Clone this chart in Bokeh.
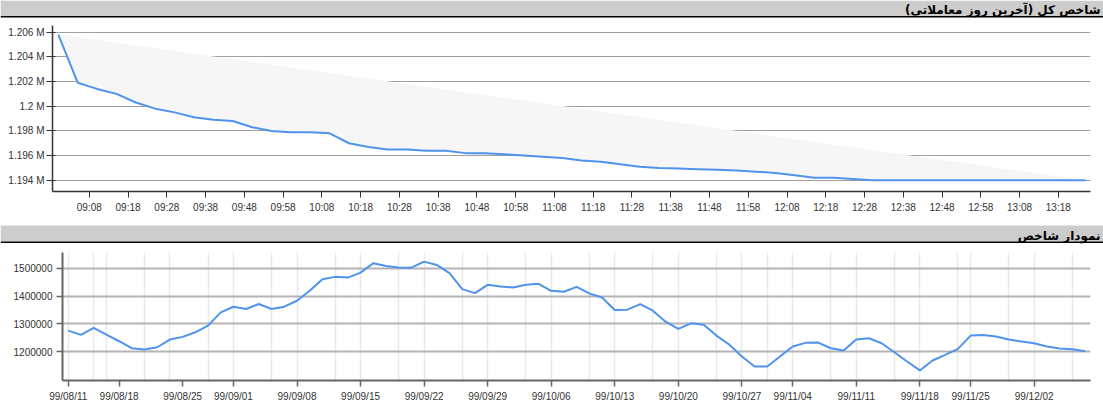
from bokeh.plotting import figure
from bokeh.models import (Range1d, FixedTicker, Label, BoxAnnotation,
                          CustomJSTickFormatter, NumeralTickFormatter)
from bokeh.embed import file_html
from bokeh.resources import INLINE

# ---------------- data ----------------
title_top = "شاخص کل (آخرین روز معاملاتی)"
title_bottom = "نمودار شاخص"

intraday_times = ["09:00", "09:05", "09:10", "09:15", "09:20", "09:25", "09:30", "09:35",
                  "09:40", "09:45", "09:50", "09:55", "10:00", "10:05", "10:10", "10:15",
                  "10:20", "10:25", "10:30", "10:35", "10:40", "10:45", "10:50", "10:55",
                  "11:00", "11:05", "11:10", "11:15", "11:20", "11:25", "11:30", "11:35",
                  "11:40", "11:45", "11:50", "11:55", "12:00", "12:05", "12:10", "12:15",
                  "12:20", "12:25", "12:30", "12:35", "12:40", "12:45", "12:50", "12:55",
                  "13:00", "13:05", "13:10", "13:15", "13:20", "13:25"]
intraday_values = [1205800, 1201900, 1201400, 1201000, 1200300, 1199800, 1199500, 1199100,
                   1198900, 1198800, 1198300, 1198000, 1197900, 1197900, 1197800, 1197000,
                   1196700, 1196500, 1196500, 1196400, 1196400, 1196200, 1196200, 1196100,
                   1196000, 1195900, 1195800, 1195600, 1195500, 1195300, 1195100, 1195000,
                   1194950, 1194900, 1194850, 1194800, 1194700, 1194600, 1194400, 1194200,
                   1194200, 1194100, 1194000, 1194000, 1194000, 1194000, 1194000, 1194000,
                   1194000, 1194000, 1194000, 1194000, 1194000, 1194000]
intraday_tick_labels = ["09:08", "09:18", "09:28", "09:38", "09:48", "09:58", "10:08", "10:18",
                        "10:28", "10:38", "10:48", "10:58", "11:08", "11:18", "11:28", "11:38",
                        "11:48", "11:58", "12:08", "12:18", "12:28", "12:38", "12:48", "12:58",
                        "13:08", "13:18"]
intraday_y_ticks = [1194000, 1196000, 1198000, 1200000, 1202000, 1204000, 1206000]

daily_values = [1276000, 1260700, 1285700, 1261800, 1237900, 1212900, 1208200, 1216400,
                1243900, 1253600, 1270000, 1293900, 1341400, 1361800, 1353600, 1371400,
                1353600, 1361800, 1383200, 1418900, 1460700, 1468900, 1466400, 1484300,
                1517900, 1508200, 1502100, 1502000, 1523600, 1511800, 1482100, 1425000,
                1410700, 1440400, 1434300, 1430700, 1440400, 1443900, 1418900, 1415400,
                1433200, 1409300, 1395000, 1350000, 1351100, 1371400, 1347500, 1308200,
                1282100, 1302100, 1297500, 1258200, 1226100, 1183200, 1147500, 1147500,
                1183200, 1218900, 1232100, 1233200, 1212900, 1204600, 1243900, 1248600,
                1230700, 1198600, 1165400, 1133200, 1168900, 1189300, 1210700, 1258200,
                1260700, 1254600, 1243900, 1236800, 1230700, 1218900, 1211800, 1209300,
                1202100]
date_tick_pos = [0, 4, 9, 13, 18, 23, 28, 33, 38, 43, 48, 53, 57, 62, 67, 71, 76]
date_tick_labels = ["99/08/11", "99/08/18", "99/08/25", "99/09/01", "99/09/08", "99/09/15",
                    "99/09/22", "99/09/29", "99/10/06", "99/10/13", "99/10/20", "99/10/27",
                    "99/11/04", "99/11/11", "99/11/18", "99/11/25", "99/12/02"]
date_grid_pos = [0, 2, 3, 6, 8, 11, 13, 16, 18, 21, 23, 26, 28, 31, 33, 36, 38, 41, 43, 46,
                 48, 51, 53, 55, 57, 60, 62, 65, 67, 70, 71, 74, 76, 79]
daily_y_ticks = [1200000, 1300000, 1400000, 1500000]

# ---------------- styling ----------------
W = 1103
LINE = "#4f93ec"
FONT = "Liberation Sans"
TFONT = "DejaVu Sans"
HEAD = "#cccccc"


def to_min(s):
    h, m = s.split(":")
    return int(h) * 60 + int(m)


def header(title, h, gray_top, gray_bottom, text_mid):
    p = figure(width=W, height=h, x_range=Range1d(0, W), y_range=Range1d(0, h),
               output_backend="svg", toolbar_location=None, min_border=0,
               x_axis_location=None, y_axis_location=None)
    p.grid.visible = False
    p.outline_line_color = None
    p.background_fill_color = "white"
    p.border_fill_color = "white"
    p.add_layout(BoxAnnotation(bottom=gray_bottom, top=gray_top, fill_color=HEAD,
                               fill_alpha=1, line_color=None))
    p.add_layout(BoxAnnotation(bottom=gray_bottom - 1.6, top=gray_bottom,
                               fill_color="black", fill_alpha=1, line_color=None))
    p.add_layout(Label(x=W - 3, y=text_mid, text=title, text_align="right",
                       text_baseline="middle", text_font=TFONT,
                       text_font_size="12px", text_font_style="bold",
                       text_color="black"))
    return p


# ---------------- top chart ----------------
t_min = [to_min(t) for t in intraday_times]
tick_min = [to_min(t) for t in intraday_tick_labels]

p1 = figure(width=W, height=205, x_range=Range1d(538.5, 806.3),
            y_range=Range1d(1193093, 1206534), output_backend="svg",
            toolbar_location=None, min_border_left=52, min_border_right=13,
            min_border_top=6, min_border_bottom=33)
p1.outline_line_color = None
p1.background_fill_color = "white"
p1.border_fill_color = "white"
p1.patch(t_min, intraday_values, fill_color="#f6f6f6", line_color=None)
p1.line(t_min, intraday_values, line_color=LINE, line_width=2)

p1.xaxis.ticker = FixedTicker(ticks=tick_min)
p1.xaxis.major_label_overrides = {m: s for m, s in zip(tick_min, intraday_tick_labels)}
p1.yaxis.ticker = FixedTicker(ticks=intraday_y_ticks)
p1.yaxis.formatter = CustomJSTickFormatter(
    code="return parseFloat((tick/1e6).toFixed(3)) + ' M';")
p1.xgrid.visible = False
p1.ygrid.grid_line_color = "#a0a0a0"
p1.ygrid.grid_line_width = 1
for ax in (p1.xaxis[0], p1.yaxis[0]):
    ax.axis_line_color = "#333333"
    ax.axis_line_width = 1.5
    ax.major_tick_line_color = "#333333"
    ax.minor_tick_line_color = None
    ax.major_label_text_font = FONT
    ax.major_label_text_font_size = "10px"
    ax.major_label_text_color = "#333333"
p1.yaxis.major_tick_out = 6
p1.yaxis.major_tick_in = 3
p1.yaxis.major_label_standoff = 2
p1.xaxis.major_tick_out = 6
p1.xaxis.major_tick_in = 0
p1.xaxis.major_label_standoff = 4

# ---------------- bottom chart ----------------
idx = list(range(len(daily_values)))
p2 = figure(width=W, height=169, x_range=Range1d(-0.45, 80.43),
            y_range=Range1d(1097060, 1556330), output_backend="svg",
            toolbar_location=None, min_border_left=62, min_border_right=13,
            min_border_top=6, min_border_bottom=35)
p2.outline_line_color = None
p2.background_fill_color = "white"
p2.border_fill_color = "white"
p2.line(idx, daily_values, line_color=LINE, line_width=2)

p2.xaxis.ticker = FixedTicker(ticks=date_tick_pos)
p2.xaxis.major_label_overrides = {i: s for i, s in zip(date_tick_pos, date_tick_labels)}
p2.xgrid.ticker = FixedTicker(ticks=date_grid_pos)
p2.xgrid.grid_line_color = "#e9e9e9"
p2.xgrid.grid_line_width = 1.5
p2.yaxis.ticker = FixedTicker(ticks=daily_y_ticks)
p2.yaxis.formatter = NumeralTickFormatter(format="0")
p2.ygrid.grid_line_color = "#b4b4b4"
p2.ygrid.grid_line_width = 2
for ax in (p2.xaxis[0], p2.yaxis[0]):
    ax.axis_line_color = "#666666"
    ax.axis_line_width = 2
    ax.major_tick_line_color = "#666666"
    ax.major_tick_line_width = 1.5
    ax.minor_tick_line_color = None
    ax.major_tick_out = 6
    ax.major_tick_in = 0
    ax.major_label_text_font = FONT
    ax.major_label_text_font_size = "10px"
    ax.major_label_text_color = "#333333"
p2.yaxis.major_label_standoff = 4
p2.xaxis.major_label_standoff = 4

h1 = header(title_top, 19, gray_top=19, gray_bottom=3.6, text_mid=10)
h2 = header(title_bottom, 22, gray_top=21, gray_bottom=5, text_mid=10.5)

# separate roots so that the plot frames are not aligned with each other
open("out.html", "w").write(file_html([h1, p1, h2, p2], INLINE))
